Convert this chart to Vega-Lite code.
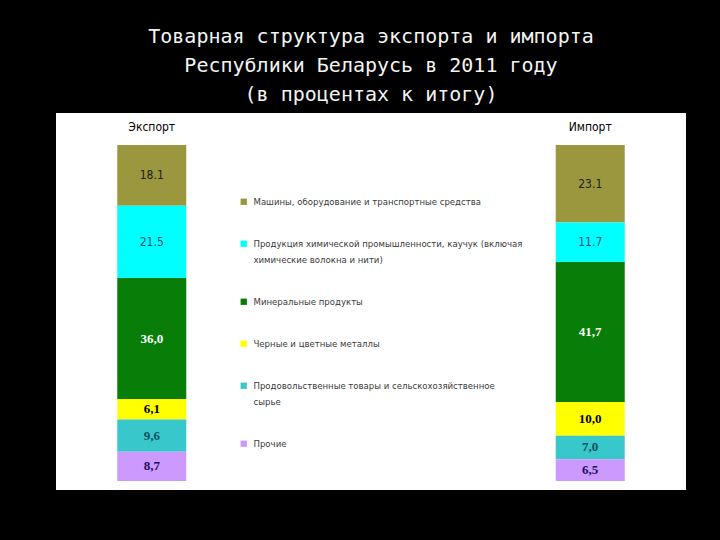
{
  "$schema": "https://vega.github.io/schema/vega-lite/v6.json",
  "width": 630,
  "height": 377,
  "autosize": {"type": "none"},
  "padding": {"left": 56, "top": 113, "right": 34, "bottom": 50},
  "background": "#000000",
  "config": {"view": {"fill": "#ffffff", "stroke": null}},
  "title": {
    "text": ["Товарная структура экспорта и импорта", "Республики Беларусь в 2011 году", "(в процентах к итогу)"],
    "font": "DejaVu Sans Mono",
    "fontSize": 20,
    "fontWeight": "normal",
    "color": "#f2f4f4",
    "lineHeight": 29,
    "anchor": "middle",
    "frame": "group",
    "offset": 8
  },
  "data": {
    "values": [
      {"flow": "Экспорт", "rank": 1, "cat": "Машины, оборудование и транспортные средства", "value": 18.1, "label": "18.1"},
      {"flow": "Экспорт", "rank": 2, "cat": "Продукция химической промышленности, каучук (включая химические волокна и нити)", "value": 21.5, "label": "21.5"},
      {"flow": "Экспорт", "rank": 3, "cat": "Минеральные продукты", "value": 36.0, "label": "36,0"},
      {"flow": "Экспорт", "rank": 4, "cat": "Черные и цветные металлы", "value": 6.1, "label": "6,1"},
      {"flow": "Экспорт", "rank": 5, "cat": "Продовольственные товары и сельскохозяйственное сырье", "value": 9.6, "label": "9,6"},
      {"flow": "Экспорт", "rank": 6, "cat": "Прочие", "value": 8.7, "label": "8,7"},
      {"flow": "Импорт", "rank": 1, "cat": "Машины, оборудование и транспортные средства", "value": 23.1, "label": "23.1"},
      {"flow": "Импорт", "rank": 2, "cat": "Продукция химической промышленности, каучук (включая химические волокна и нити)", "value": 11.7, "label": "11.7"},
      {"flow": "Импорт", "rank": 3, "cat": "Минеральные продукты", "value": 41.7, "label": "41,7"},
      {"flow": "Импорт", "rank": 4, "cat": "Черные и цветные металлы", "value": 10.0, "label": "10,0"},
      {"flow": "Импорт", "rank": 5, "cat": "Продовольственные товары и сельскохозяйственное сырье", "value": 7.0, "label": "7,0"},
      {"flow": "Импорт", "rank": 6, "cat": "Прочие", "value": 6.5, "label": "6,5"}
    ]
  },
  "transform": [
    {"stack": "value", "groupby": ["flow"], "sort": [{"field": "rank", "order": "descending"}], "as": ["v0", "v1"]},
    {"calculate": "(datum.v0 + datum.v1) / 2", "as": "mid"}
  ],
  "encoding": {
    "x": {
      "field": "flow",
      "type": "nominal",
      "sort": ["Экспорт", "Импорт"],
      "scale": {"type": "band", "paddingInner": 0.8426, "paddingOuter": 0.1397},
      "axis": {
        "orient": "top",
        "title": null,
        "domain": false,
        "ticks": false,
        "grid": false,
        "labelAngle": 0,
        "labelFont": "DejaVu Sans Condensed, sans-serif",
        "labelFontSize": 12,
        "labelColor": "#000000",
        "labelPadding": 0,
        "labelBaseline": "bottom",
        "offset": -20
      }
    }
  },
  "layer": [
    {
      "mark": {"type": "bar"},
      "encoding": {
        "y": {"field": "v0", "type": "quantitative", "scale": {"domain": [-2.68, 109.52], "zero": false, "nice": false}, "axis": null},
        "y2": {"field": "v1"},
        "color": {
          "field": "cat",
          "type": "nominal",
          "scale": {
            "domain": [
              "Машины, оборудование и транспортные средства",
              "Продукция химической промышленности, каучук (включая химические волокна и нити)",
              "Минеральные продукты",
              "Черные и цветные металлы",
              "Продовольственные товары и сельскохозяйственное сырье",
              "Прочие"
            ],
            "range": ["#9b973f", "#00ffff", "#087d08", "#ffff00", "#38c8cc", "#cc99ff"]
          },
          "legend": {
            "title": null,
            "orient": "none",
            "legendX": 183,
            "legendY": 84,
            "padding": 0,
            "symbolType": "square",
            "symbolSize": 40,
            "symbolStrokeWidth": 0,
            "symbolOpacity": 1,
            "labelFont": "DejaVu Sans Condensed, sans-serif",
            "labelFontSize": 9.5,
            "labelColor": "#3a3a3a",
            "labelLimit": 400,
            "labelOffset": 5,
            "labelBaseline": "top",
            "rowPadding": 31,
            "labelExpr": "datum.label == 'Продукция химической промышленности, каучук (включая химические волокна и нити)' ? ['Продукция химической промышленности, каучук (включая', 'химические волокна и нити)'] : datum.label == 'Продовольственные товары и сельскохозяйственное сырье' ? ['Продовольственные товары и сельскохозяйственное', 'сырье'] : datum.label",
            "encode": {"labels": {"update": {"dy": {"value": -5}, "lineHeight": {"value": 16}}}}
          }
        }
      }
    },
    {
      "transform": [{"filter": "datum.rank <= 2"}],
      "mark": {"type": "text", "font": "DejaVu Sans Condensed, sans-serif", "fontSize": 12, "baseline": "middle", "align": "center"},
      "encoding": {
        "y": {"field": "mid", "type": "quantitative", "scale": {"domain": [-2.68, 109.52], "zero": false, "nice": false}},
        "text": {"field": "label"},
        "color": {"condition": {"test": "datum.rank == 2", "value": "#10506c"}, "value": "#1c1c1c"}
      }
    },
    {
      "transform": [{"filter": "datum.rank > 2"}],
      "mark": {"type": "text", "font": "Liberation Serif", "fontWeight": "bold", "fontSize": 13, "baseline": "middle", "align": "center"},
      "encoding": {
        "y": {"field": "mid", "type": "quantitative", "scale": {"domain": [-2.68, 109.52], "zero": false, "nice": false}},
        "text": {"field": "label"},
        "color": {
          "condition": [
            {"test": "datum.rank == 3", "value": "#ffffff"},
            {"test": "datum.rank == 5", "value": "#0b4f5c"},
            {"test": "datum.rank == 6", "value": "#1b0e5c"}
          ],
          "value": "#000000"
        }
      }
    }
  ]
}
